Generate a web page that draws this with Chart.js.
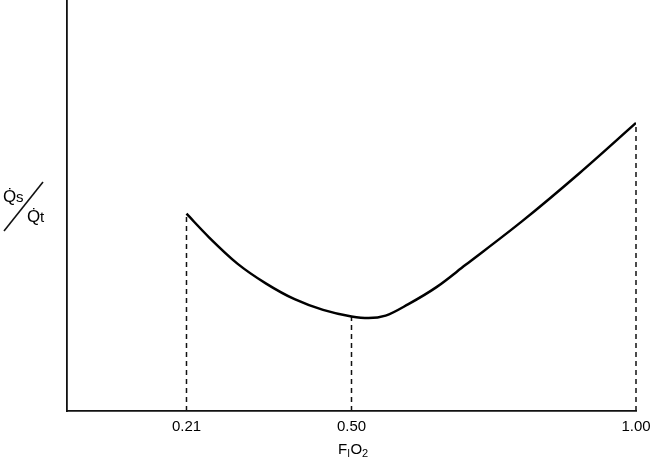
<!DOCTYPE html>
<html>
<head>
<meta charset="utf-8">
<script src="https://cdn.jsdelivr.net/npm/chart.js@4.4.0/dist/chart.umd.min.js"></script>
<style>
  html, body { margin: 0; padding: 0; background: #fff; }
  #wrap { width: 650px; height: 459px; }
</style>
</head>
<body>
<div id="wrap"><canvas id="chart-shunt"></canvas></div>
<script>
// values (y is in arbitrary units, 0 = axis, 100 = top)
const fio2 = [0.21, 0.25, 0.30, 0.35, 0.40, 0.45, 0.50, 0.53, 0.56, 0.60, 0.65, 0.70, 0.80, 0.90, 1.00];
const shunt = [48.0, 42.2, 35.8, 31.0, 27.2, 24.6, 23.0, 22.6, 23.2, 26.0, 30.2, 35.5, 46.2, 57.8, 70.1];

const tick_values = [0.21, 0.50, 1.00];
const tick_labels = ['0.21', '0.50', '1.00'];
const drop_tops = [48.0, 23.0, 70.1];

const font_family = '"Liberation Sans", Arial, Helvetica, sans-serif';

function getCurve() {
  return fio2.map((x, i) => ({ x: x, y: shunt[i] }));
}

// one dashed vertical per marked FiO2
function getDropLines() {
  return tick_values.map((x, i) => ({
    data: [{ x: x, y: 0 }, { x: x, y: drop_tops[i] }],
    borderColor: '#111',
    borderWidth: 1.5,
    borderDash: [5, 4],
    pointRadius: 0,
    fill: false,
    clip: false,
  }));
}

// axis titles: Qs/Qt with slash on the left, FIO2 below
const axisTitles = {
  id: 'axisTitles',
  afterDraw(chart) {
    const ctx = chart.ctx;
    ctx.save();
    ctx.fillStyle = '#000';
    ctx.strokeStyle = '#111';
    ctx.textBaseline = 'alphabetic';
    ctx.textAlign = 'left';

    // y title
    ctx.font = '17px ' + font_family;
    ctx.fillText('Q\u0307', 3, 202);
    ctx.font = '15px ' + font_family;
    ctx.fillText('s', 16, 202);
    ctx.font = '17px ' + font_family;
    ctx.fillText('Q\u0307', 27, 222);
    ctx.font = '15px ' + font_family;
    ctx.fillText('t', 40, 222);
    ctx.lineWidth = 1.6;
    ctx.beginPath();
    ctx.moveTo(4, 231);
    ctx.lineTo(43, 182);
    ctx.stroke();

    // x title
    let x = 338;
    const base = 454;
    ctx.font = '15px ' + font_family;
    ctx.fillText('F', x, base);
    x += ctx.measureText('F').width;
    ctx.font = '10px ' + font_family;
    ctx.fillText('I', x, base + 3);
    x += ctx.measureText('I').width + 0.5;
    ctx.font = '15px ' + font_family;
    ctx.fillText('O', x, base);
    x += ctx.measureText('O').width;
    ctx.font = '11px ' + font_family;
    ctx.fillText('2', x, base + 3);
    ctx.restore();
  }
};

function createShuntChart() {
  const ctx = document.getElementById('chart-shunt');
  new Chart(ctx, {
    type: 'line',
    plugins: [axisTitles],
    data: {
      datasets: [
        {
          data: getCurve(),
          borderColor: '#000',
          borderWidth: 2.5,
          cubicInterpolationMode: 'monotone',
          pointRadius: 0,
          fill: false,
        },
        ...getDropLines()
      ]
    },
    options: {
      responsive: true,
      maintainAspectRatio: false,
      animation: false,
      events: [],
      layout: { padding: { left: 0, right: 14, top: 0, bottom: 0 } },
      scales: {
        x: {
          type: 'linear',
          min: 0,
          max: 1,
          afterBuildTicks: (scale) => {
            scale.ticks = tick_values.map(v => ({ value: v }));
          },
          afterFit: (scale) => {
            scale.height = 48;
            scale.paddingLeft = 0;
            scale.paddingRight = 0;
          },
          grid: { display: false, drawTicks: false },
          border: { display: true, color: '#111', width: 1.8 },
          ticks: {
            padding: 7,
            maxRotation: 0,
            autoSkip: false,
            color: '#000',
            font: { size: 15, family: font_family },
            callback: (value) => tick_labels[tick_values.indexOf(value)] ?? '',
          }
        },
        y: {
          min: 0,
          max: 100,
          afterFit: (scale) => { scale.width = 67; },
          grid: { display: false, drawTicks: false },
          border: { display: true, color: '#111', width: 1.8 },
          ticks: { display: false }
        }
      },
      plugins: {
        legend: { display: false },
        tooltip: { enabled: false },
        title: { display: false }
      }
    }
  });
}

createShuntChart();
</script>
</body>
</html>
